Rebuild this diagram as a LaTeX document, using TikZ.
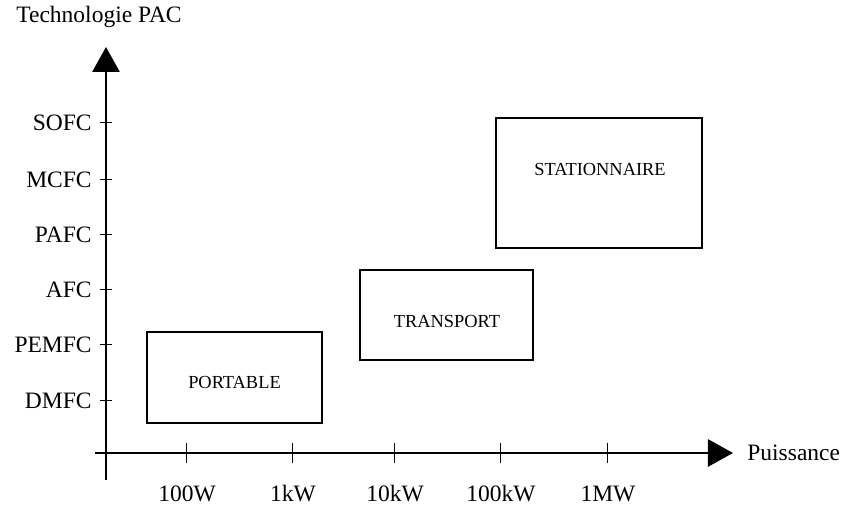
\documentclass[tikz,border=0pt]{standalone}
\usepackage{fontspec}
\setmainfont{Liberation Serif}
\usetikzlibrary{arrows.meta}
\tikzset{
  axe/.style={line width=1.4pt,-{Triangle[length=12.5pt,width=13.5pt]}},
  graduation/.style={line width=0.5pt},
  boite/.style={line width=1.3pt},
  etiquette/.style={font=\fontsize{11.75}{14}\selectfont,inner sep=0pt},
  domaine/.style={font=\fontsize{9.2}{11}\selectfont,inner sep=0pt}
}

\begin{document}
\begin{tikzpicture}[x=0.5pt,y=0.5pt]
\useasboundingbox (-106,-53) rectangle (737,453);
% axes
\coordinate (O) at (0,0);
\coordinate (xdebut) at (-11,0);
\coordinate (xfin) at (627,0);
\coordinate (ydebut) at (0,-27);
\coordinate (yfin) at (0,406);
\draw[axe] (xdebut) -- (xfin);
\draw[axe] (ydebut) -- (yfin);
\node[etiquette] (titrey) at (-7,436) {Technologie PAC};
\node[etiquette,anchor=west] (titrex) at (641,0) {Puissance};
% technologies
\foreach \t/\y [count=\i] in {DMFC/52,PEMFC/108,AFC/163,PAFC/218,MCFC/273,SOFC/330}{
	\draw[graduation] (-6,\y) -- (6,\y);
	\node[etiquette,anchor=east] (tech\i) at (-14,\y) {\t};
	}
% puissances
\foreach \p/\x [count=\i] in {100W/81,1kW/187,10kW/289,100kW/395,1MW/502}{
	\draw[graduation] (\x,10) -- (\x,-10);
	\node[etiquette] (puis\i) at (\x,-41) {\p};
	}
% domaines
\draw[boite] (41,30) rectangle (216,121);
\node[domaine] (portable) at (128.5,70) {PORTABLE};
\draw[boite] (254,93) rectangle (427,183);
\node[domaine] (transport) at (341,131) {TRANSPORT};
\draw[boite] (390,205) rectangle (596,335);
\node[domaine] (stationnaire) at (494,283) {STATIONNAIRE};
\end{tikzpicture}
\end{document}
